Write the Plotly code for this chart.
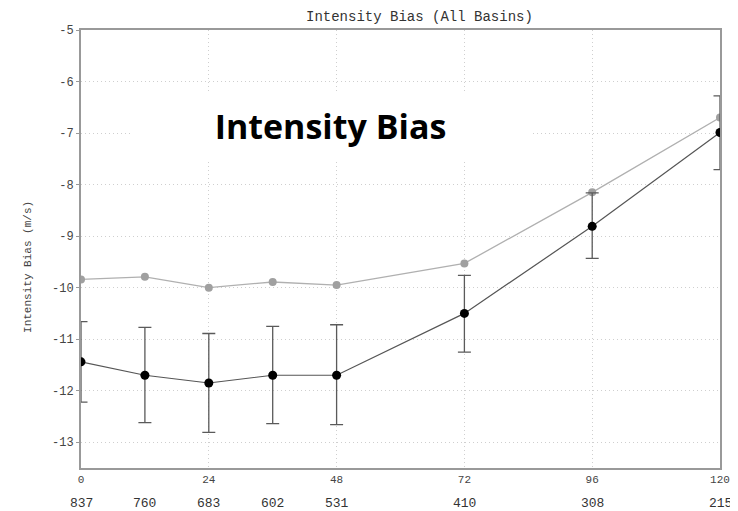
import plotly.graph_objects as go

lead_hours = [0, 12, 24, 36, 48, 72, 96, 120]
case_counts = ["837", "760", "683", "602", "531", "410", "308", "215"]
gray_bias = [-9.84, -9.79, -10.0, -9.89, -9.95, -9.53, -8.15, -6.70]
black_bias = [-11.44, -11.70, -11.85, -11.70, -11.70, -10.50, -8.81, -6.99]
black_upper = [-10.66, -10.77, -10.89, -10.75, -10.72, -9.76, -8.16, -6.28]
black_lower = [-12.22, -12.62, -12.81, -12.64, -12.66, -11.25, -9.43, -7.71]
x_ticks = [0, 24, 48, 72, 96, 120]
y_ticks = [-13, -12, -11, -10, -9, -8, -7, -6, -5]

err_plus = [u - b for u, b in zip(black_upper, black_bias)]
err_minus = [b - l for l, b in zip(black_lower, black_bias)]

mono = "Liberation Mono, Courier New, monospace"

fig = go.Figure()
fig.add_trace(go.Scatter(
    x=lead_hours, y=gray_bias, mode="lines+markers",
    line=dict(color="#b0b0b0", width=1.3),
    marker=dict(color="#a0a0a0", size=8),
    showlegend=False,
))
fig.add_trace(go.Scatter(
    x=lead_hours, y=black_bias, mode="lines+markers",
    line=dict(color="#555555", width=1.2),
    marker=dict(color="#000000", size=9),
    error_y=dict(type="data", symmetric=False, array=err_plus, arrayminus=err_minus,
                 color="#5a5a5a", thickness=1.3, width=6.5),
    showlegend=False,
))

for xv, lab in zip(lead_hours, case_counts):
    fig.add_annotation(x=xv, y=-0.08, xref="x", yref="paper", text=lab, showarrow=False,
                       font=dict(family=mono, size=13, color="#333333"), yanchor="middle")

fig.add_annotation(x=0.53, y=1.03, xref="paper", yref="paper", text="Intensity Bias (All Basins)",
                   showarrow=False, font=dict(family=mono, size=14, color="#333333"), yanchor="middle")
fig.add_annotation(x=-0.0955, y=0.459, xref="paper", yref="paper", text="Intensity Bias (m/s)",
                   showarrow=False, textangle=-90, font=dict(family=mono, size=11, color="#444444"))
fig.add_annotation(x=0.39, y=0.78, xref="paper", yref="paper", text="<b>Intensity Bias</b>",
                   showarrow=False, font=dict(family="Open Sans, sans-serif", size=34, color="#000000"),
                   bgcolor="white", width=397, height=64, yanchor="middle")

fig.update_layout(
    width=730, height=503,
    margin=dict(l=73, r=18, t=22, b=43, autoexpand=False),
    paper_bgcolor="white", plot_bgcolor="white",
    xaxis=dict(range=[0, 120], tickvals=x_ticks, ticktext=[str(v) for v in x_ticks],
               automargin=False,
               showgrid=True, gridcolor="#cfcfcf", griddash="1px,3px", gridwidth=1,
               showline=True, linecolor="#999999", linewidth=2, mirror=True,
               ticks="", zeroline=False,
               tickfont=dict(family=mono, size=11, color="#444444")),
    yaxis=dict(range=[-13.5, -5], tickvals=y_ticks, ticktext=[str(v) for v in y_ticks],
               automargin=False,
               showgrid=True, gridcolor="#cfcfcf", griddash="1px,3px", gridwidth=1,
               showline=True, linecolor="#999999", linewidth=2, mirror=True,
               ticks="outside", ticklen=3, tickcolor="#999999", zeroline=False,
               tickfont=dict(family=mono, size=12, color="#444444")),
)

fig.write_html("out.html")
